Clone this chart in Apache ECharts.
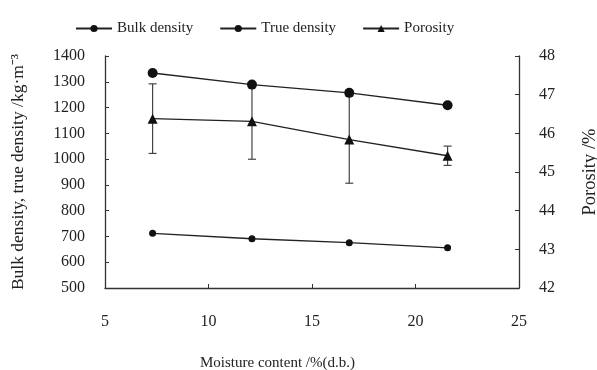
<!DOCTYPE html>
<html>
<head>
<meta charset="utf-8">
<script src="https://cdn.jsdelivr.net/npm/echarts@6/dist/echarts.min.js"></script>
<style>
  html, body { margin: 0; padding: 0; background: #fff; }
  #chart { width: 597px; height: 370px; }
</style>
</head>
<body>
<div id="chart"></div>
<script>
// moisture content (% d.b.)
const moisture = [7.3, 12.1, 16.8, 21.55];
const bulkDensity = [712, 691, 676, 656];
const trueDensity = [1334, 1289, 1257, 1209];
const porosity = [46.38, 46.31, 45.84, 45.42];
const porosityErr = [0.9, 0.98, 1.13, 0.25];

const font = 'Liberation Serif, Times New Roman, serif';

const pairs = (ys) => moisture.map((x, i) => [x, ys[i]]);
const errData = moisture.map((x, i) => [x, porosity[i] - porosityErr[i], porosity[i] + porosityErr[i]]);

const init = () => {
    const myChart = echarts.init(document.getElementById('chart'));
    const axisLine = { show: true, lineStyle: { color: '#333', width: 1.3 } };
    const tick = { inside: true, length: 4, lineStyle: { color: '#333' } };
    const label = { fontFamily: font, fontSize: 16, color: '#222' };
    let option = {
        animation: false,
        textStyle: { fontFamily: font, color: '#222' },
        legend: {
            left: 70,
            top: 16,
            itemWidth: 36,
            itemHeight: 9,
            itemGap: 26,
            textStyle: { fontFamily: font, fontSize: 15, color: '#222' },
            data: ['Bulk density', 'True density', 'Porosity']
        },
        title: {
            text: 'Moisture content /%(d.b.)',
            left: 195,
            top: 351,
            textStyle: { fontFamily: font, fontSize: 15, fontWeight: 'normal', color: '#222' }
        },
        grid: { left: 105, right: 78, top: 56, bottom: 82, outerBoundsMode: 'none' },
        xAxis: {
            type: 'value',
            min: 5,
            max: 25,
            interval: 5,
            axisLine: axisLine,
            axisTick: tick,
            axisLabel: Object.assign({ margin: 26 }, label),
            splitLine: { show: false }
        },
        yAxis: [
            {
                type: 'value',
                min: 500,
                max: 1400,
                interval: 100,
                name: 'Bulk density, true density /kg·m⁻³',
                nameLocation: 'middle',
                nameGap: 78,
                nameRotate: 90,
                nameTextStyle: { fontFamily: font, fontSize: 17.5, color: '#222' },
                axisLine: axisLine,
                axisTick: tick,
                axisLabel: Object.assign({ margin: 20, formatter: (v) => String(v) }, label),
                splitLine: { show: false }
            },
            {
                type: 'value',
                min: 42,
                max: 48,
                interval: 1,
                position: 'right',
                name: 'Porosity /%',
                nameLocation: 'middle',
                nameGap: 62,
                nameRotate: 90,
                nameTextStyle: { fontFamily: font, fontSize: 18.5, color: '#222' },
                axisLine: axisLine,
                axisTick: tick,
                axisLabel: Object.assign({ margin: 20 }, label),
                splitLine: { show: false }
            }
        ],
        series: [
            {
                name: 'Bulk density',
                type: 'line',
                data: pairs(bulkDensity),
                symbol: 'circle',
                symbolSize: 7,
                itemStyle: { color: '#111' },
                lineStyle: { color: '#222', width: 1.3 }
            },
            {
                name: 'True density',
                type: 'line',
                data: pairs(trueDensity),
                symbol: 'circle',
                symbolSize: 10,
                itemStyle: { color: '#111' },
                lineStyle: { color: '#222', width: 1.3 }
            },
            {
                name: 'Porosity',
                type: 'line',
                yAxisIndex: 1,
                data: pairs(porosity),
                symbol: 'triangle',
                symbolSize: 10,
                itemStyle: { color: '#111' },
                lineStyle: { color: '#222', width: 1.3 },
                z: 3
            },
            {
                name: 'Porosity error',
                type: 'custom',
                yAxisIndex: 1,
                data: errData,
                z: 2,
                renderItem: (params, api) => {
                    const x = api.value(0);
                    const lo = api.coord([x, api.value(1)]);
                    const hi = api.coord([x, api.value(2)]);
                    const cap = 4;
                    const style = { stroke: '#444', lineWidth: 1.2 };
                    return {
                        type: 'group',
                        children: [
                            { type: 'line', shape: { x1: hi[0], y1: hi[1], x2: lo[0], y2: lo[1] }, style: style },
                            { type: 'line', shape: { x1: hi[0] - cap, y1: hi[1], x2: hi[0] + cap, y2: hi[1] }, style: style },
                            { type: 'line', shape: { x1: lo[0] - cap, y1: lo[1], x2: lo[0] + cap, y2: lo[1] }, style: style }
                        ]
                    };
                }
            }
        ]
    };
    myChart.setOption(option);
    window.addEventListener('resize', () => {
        myChart.resize();
    });
};
init();
</script>
</body>
</html>
